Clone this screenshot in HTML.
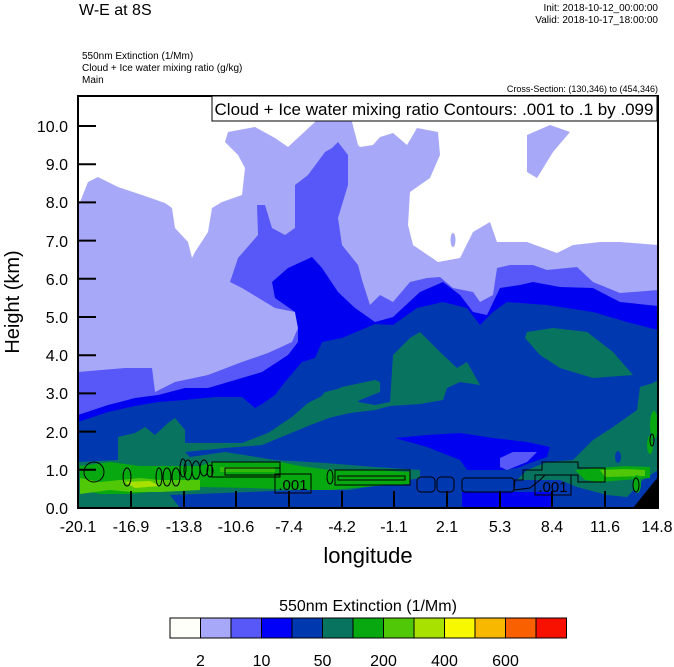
<!DOCTYPE html>
<html><head><meta charset="utf-8"><style>
html,body{margin:0;padding:0;background:#fff;}
svg{display:block;}
text{font-family:"Liberation Sans",Arial,sans-serif;fill:#000;}
</style></head><body>
<svg width="674" height="667" viewBox="0 0 674 667" xmlns="http://www.w3.org/2000/svg">
<defs><clipPath id="pc"><rect x="78" y="96" width="580" height="412"/></clipPath></defs>
<g clip-path="url(#pc)">
<!-- lavender base -->
<rect x="78" y="96" width="580" height="412" fill="#a8a8f8"/>
<!-- white regions -->
<path fill="#fff" d="M78,96 L315,96 L315,122 L288,147 L275,138 L255,127 L228,132 L225,142 L238,155 L245,168 L242,195 L222,202 L212,208 L208,232 L195,252 L192,258 L188,242 L175,228 L172,208 L165,203 L142,195 L118,187 L98,177 L88,182 L80,202 L78,204 Z"/>
<path fill="#fff" d="M350,96 L658,96 L658,245 L620,242 L600,242 L573,245 L557,253 L527,242 L497,242 L490,222 L473,232 L460,258 L438,262 L413,245 L408,225 L410,192 L430,178 L440,155 L438,132 L417,128 L407,145 L393,133 L380,137 L373,145 L360,147 L358,145 L352,122 Z"/>
<path fill="#a8a8f8" d="M527,135 L550,125 L570,132 L553,152 L537,178 L527,172 Z"/>
<ellipse cx="453" cy="240" rx="2.5" ry="7" fill="#a8a8f8"/>
<!-- medium blue -->
<path fill="#5858f8" d="M78,372 L125,368 L152,368 L155,392 L175,382 L208,375 L242,362 L268,353 L292,342 L298,328 L295,312 L275,308 L242,288 L230,282 L238,258 L258,235 L257,205 L265,205 L272,228 L285,235 L295,228 L295,185 L308,175 L325,152 L332,148 L338,142 L348,155 L348,185 L338,218 L342,245 L358,265 L362,280 L370,305 L380,295 L393,302 L410,282 L427,278 L440,277 L453,288 L473,292 L480,302 L493,295 L497,268 L510,265 L533,265 L547,270 L577,267 L593,282 L620,293 L658,290 L658,508 L78,508 Z"/>
<!-- blue -->
<path fill="#0000f0" d="M78,415 L108,405 L135,398 L158,395 L185,388 L208,388 L235,380 L262,372 L288,355 L298,342 L298,328 L295,312 L275,298 L272,282 L288,268 L312,257 L322,268 L338,292 L355,308 L375,322 L393,317 L420,292 L443,282 L460,295 L473,312 L487,315 L500,288 L520,285 L533,282 L560,287 L593,288 L620,302 L658,306 L658,508 L78,508 Z"/>
<!-- dark blue -->
<path fill="#0038b0" d="M78,422 L108,412 L135,406 L158,402 L185,400 L215,397 L242,397 L255,408 L262,404 L275,395 L285,382 L302,362 L315,358 L322,342 L342,338 L375,324 L393,325 L417,308 L443,302 L467,308 L480,325 L493,312 L507,302 L547,305 L593,312 L627,322 L658,330 L658,508 L78,508 Z"/>
<!-- teal upper blobs -->
<path fill="#087460" d="M302,420 L325,392 L342,388 L358,402 L375,405 L390,402 L393,355 L410,338 L420,332 L440,352 L457,368 L467,362 L480,385 L460,382 L447,388 L443,400 L420,404 L390,406 L375,410 L350,413 L320,420 Z"/>
<path fill="#087460" d="M525,338 L527,332 L553,328 L587,332 L613,352 L633,375 L593,378 L560,368 L540,355 Z"/>
<!-- teal lower big -->
<path fill="#087460" d="M78,462 L118,460 L118,437 L135,433 L145,427 L155,435 L168,423 L175,418 L185,430 L185,443 L208,443 L242,443 L268,433 L292,417 L308,403 L328,393 L342,387 L375,380 L380,382 L380,392 L360,400 L342,413 L308,426 L262,445 L225,448 L185,452 L190,457 L225,452 L275,460 L325,463 L375,467 L420,470 L420,478 L350,490 L300,490 L170,495 L180,508 L78,508 Z"/>
<!-- bright blue blob -->
<path fill="#0000f0" d="M395,438 L427,435 L460,433 L493,438 L527,442 L550,447 L547,457 L530,463 L517,468 L500,470 L467,470 L460,460 L427,447 Z"/>
<path fill="#5858f8" d="M500,458 L513,452 L537,452 L527,462 L507,470 L500,467 Z"/>
<rect x="462" y="492" width="90" height="16" fill="#0000f0"/>
<!-- right teal -->
<path fill="#087460" d="M517,480 L527,470 L547,462 L573,460 L593,440 L613,427 L637,410 L640,387 L653,383 L658,380 L658,470 L643,480 L627,497 L607,495 L577,487 L560,480 Z"/>
<ellipse cx="618" cy="457" rx="3" ry="6" fill="#0038b0"/>
<!-- green bands -->
<path fill="#08a810" d="M80,466 L110,462 L140,466 L200,466 L212,462 L280,462 L300,466 L330,470 L375,470 L410,472 L410,484 L375,486 L330,490 L300,490 L250,488 L200,487 L170,490 L130,494 L100,494 L80,490 Z"/>
<path fill="#50c808" d="M80,478 L100,482 L120,480 L140,478 L160,480 L200,480 L200,490 L160,492 L130,492 L110,490 L80,494 Z"/>
<path fill="#a8e000" d="M125,482 L150,481 L160,486 L135,488 Z"/>
<path fill="#08a810" d="M215,465 L280,465 L280,476 L215,476 Z"/>
<path fill="#50c808" d="M220,467 L275,467 L275,472 L220,472 Z" opacity="0.6"/>
<path fill="#08a810" d="M575,470 L600,468 L625,466 L650,467 L650,478 L625,480 L600,482 L585,480 Z"/>
<path fill="#50c808" d="M600,470 L625,469 L645,470 L645,476 L605,477 Z"/>
<ellipse cx="637" cy="484" rx="4" ry="9" fill="#08a810"/>
<ellipse cx="654" cy="425" rx="4" ry="14" fill="#08a810"/>
<ellipse cx="650" cy="445" rx="3" ry="9" fill="#08a810"/>
<!-- black corner -->
<path fill="#000" d="M633,508 L658,477 L658,508 Z"/>
<!-- contour lines -->
<g fill="none" stroke="#000" stroke-width="1">
<ellipse cx="94" cy="472" rx="10" ry="10"/>
<ellipse cx="127" cy="477" rx="4" ry="9"/>
<ellipse cx="159" cy="477" rx="3" ry="9"/>
<ellipse cx="167" cy="477" rx="4" ry="9"/>
<ellipse cx="176" cy="477" rx="4" ry="9"/>
<ellipse cx="183" cy="468" rx="3" ry="9"/>
<ellipse cx="188" cy="470" rx="4" ry="10"/>
<ellipse cx="196" cy="470" rx="4" ry="9"/>
<ellipse cx="204" cy="468" rx="4" ry="8"/>
<ellipse cx="210" cy="471" rx="3" ry="6"/>
<path d="M212,462 L280,462 L280,477 L212,477 Z"/>
<path d="M225,468 L280,468 L280,475 L225,475 Z"/>
<rect x="275" y="474" width="36" height="19"/>
<ellipse cx="330" cy="477" rx="3" ry="7"/>
<path d="M335,470 L410,470 L410,485 L335,485 Z"/>
<path d="M338,476 L405,476 L405,480 L338,480 Z"/>
<rect x="417" y="477" width="18" height="15" rx="4"/>
<rect x="437" y="477" width="17" height="15" rx="4"/>
<rect x="462" y="478" width="52" height="14" rx="3"/>
<path d="M514,490 L515,480 L523,480 L523,470 L542,470 L542,462 L578,462 L578,468 L605,468 L605,482 L578,482 L578,475 L545,475 L540,480 L530,488 Z"/>
<rect x="535" y="475" width="36" height="20"/>
<ellipse cx="636" cy="485" rx="3" ry="7"/>
<ellipse cx="652" cy="440" rx="2" ry="6"/>
</g>
<text x="293" y="490" font-size="15" text-anchor="middle">.001</text>
<text x="553" y="492" font-size="15" text-anchor="middle">.001</text>
</g>
<!-- frame -->
<rect x="78" y="96" width="580" height="412" fill="none" stroke="#000" stroke-width="2"/>
<!-- contour title box -->
<rect x="212" y="96" width="445" height="25" fill="#fff" stroke="#000" stroke-width="1"/>
<text x="434" y="115" font-size="17" text-anchor="middle">Cloud + Ice water mixing ratio Contours: .001 to .1 by .099</text>
<!-- y ticks -->
<g stroke="#000" stroke-width="2">
<line x1="78" y1="126" x2="96" y2="126"/><line x1="78" y1="164.2" x2="96" y2="164.2"/>
<line x1="78" y1="202.4" x2="96" y2="202.4"/><line x1="78" y1="240.6" x2="96" y2="240.6"/>
<line x1="78" y1="278.8" x2="96" y2="278.8"/><line x1="78" y1="317" x2="96" y2="317"/>
<line x1="78" y1="355.2" x2="96" y2="355.2"/><line x1="78" y1="393.4" x2="96" y2="393.4"/>
<line x1="78" y1="431.6" x2="96" y2="431.6"/><line x1="78" y1="469.8" x2="96" y2="469.8"/>
<line x1="131" y1="508" x2="131" y2="491"/><line x1="184" y1="508" x2="184" y2="491"/>
<line x1="236" y1="508" x2="236" y2="491"/><line x1="289" y1="508" x2="289" y2="491"/>
<line x1="342" y1="508" x2="342" y2="491"/><line x1="394" y1="508" x2="394" y2="491"/>
<line x1="447" y1="508" x2="447" y2="491"/><line x1="500" y1="508" x2="500" y2="491"/>
<line x1="552" y1="508" x2="552" y2="491"/><line x1="605" y1="508" x2="605" y2="491"/>
</g>
<g font-size="16" text-anchor="end">
<text x="68" y="132">10.0</text><text x="68" y="170">9.0</text><text x="68" y="208">8.0</text>
<text x="68" y="247">7.0</text><text x="68" y="285">6.0</text><text x="68" y="323">5.0</text>
<text x="68" y="361">4.0</text><text x="68" y="399">3.0</text><text x="68" y="438">2.0</text>
<text x="68" y="476">1.0</text><text x="68" y="514">0.0</text>
</g>
<g font-size="16" text-anchor="middle">
<text x="78" y="532">-20.1</text><text x="131" y="532">-16.9</text><text x="184" y="532">-13.8</text>
<text x="236" y="532">-10.6</text><text x="289" y="532">-7.4</text><text x="342" y="532">-4.2</text>
<text x="394" y="532">-1.1</text><text x="447" y="532">2.1</text><text x="500" y="532">5.3</text>
<text x="552" y="532">8.4</text><text x="605" y="532">11.6</text><text x="657" y="532">14.8</text>
</g>
<text x="368" y="563" font-size="22" text-anchor="middle">longitude</text>
<text transform="translate(19,302) rotate(-90)" font-size="20" text-anchor="middle">Height (km)</text>
<!-- headers -->
<text x="79" y="15" font-size="16">W-E at 8S</text>
<text x="658" y="11" font-size="10" text-anchor="end">Init: 2018-10-12_00:00:00</text>
<text x="658" y="23" font-size="10" text-anchor="end">Valid: 2018-10-17_18:00:00</text>
<text x="82" y="59" font-size="10">550nm Extinction   (1/Mm)</text>
<text x="82" y="71" font-size="10">Cloud + Ice water mixing ratio   (g/kg)</text>
<text x="82" y="83" font-size="10">Main</text>
<text x="658" y="92" font-size="9" text-anchor="end">Cross-Section: (130,346) to (454,346)</text>
<!-- colorbar -->
<text x="368" y="611" font-size="16" text-anchor="middle">550nm Extinction  (1/Mm)</text>
<g stroke="#000" stroke-width="1">
<rect x="170" y="618" width="30.5" height="20" fill="#fffffa"/>
<rect x="200.5" y="618" width="30.5" height="20" fill="#a8a8f8"/>
<rect x="231" y="618" width="30.5" height="20" fill="#5858f8"/>
<rect x="261.5" y="618" width="30.5" height="20" fill="#0000f8"/>
<rect x="292" y="618" width="30.5" height="20" fill="#0038b0"/>
<rect x="322.5" y="618" width="30.5" height="20" fill="#087460"/>
<rect x="353" y="618" width="30.5" height="20" fill="#08a810"/>
<rect x="383.5" y="618" width="30.5" height="20" fill="#50c808"/>
<rect x="414" y="618" width="30.5" height="20" fill="#a8e000"/>
<rect x="444.5" y="618" width="30.5" height="20" fill="#f8f800"/>
<rect x="475" y="618" width="30.5" height="20" fill="#f8b800"/>
<rect x="505.5" y="618" width="30.5" height="20" fill="#f86000"/>
<rect x="536" y="618" width="30.5" height="20" fill="#f81000"/>
</g>
<g font-size="16" text-anchor="middle">
<text x="200.5" y="666">2</text><text x="261.5" y="666">10</text><text x="322.5" y="666">50</text>
<text x="383.5" y="666">200</text><text x="444.5" y="666">400</text><text x="505.5" y="666">600</text>
</g>
</svg>
</body></html>
